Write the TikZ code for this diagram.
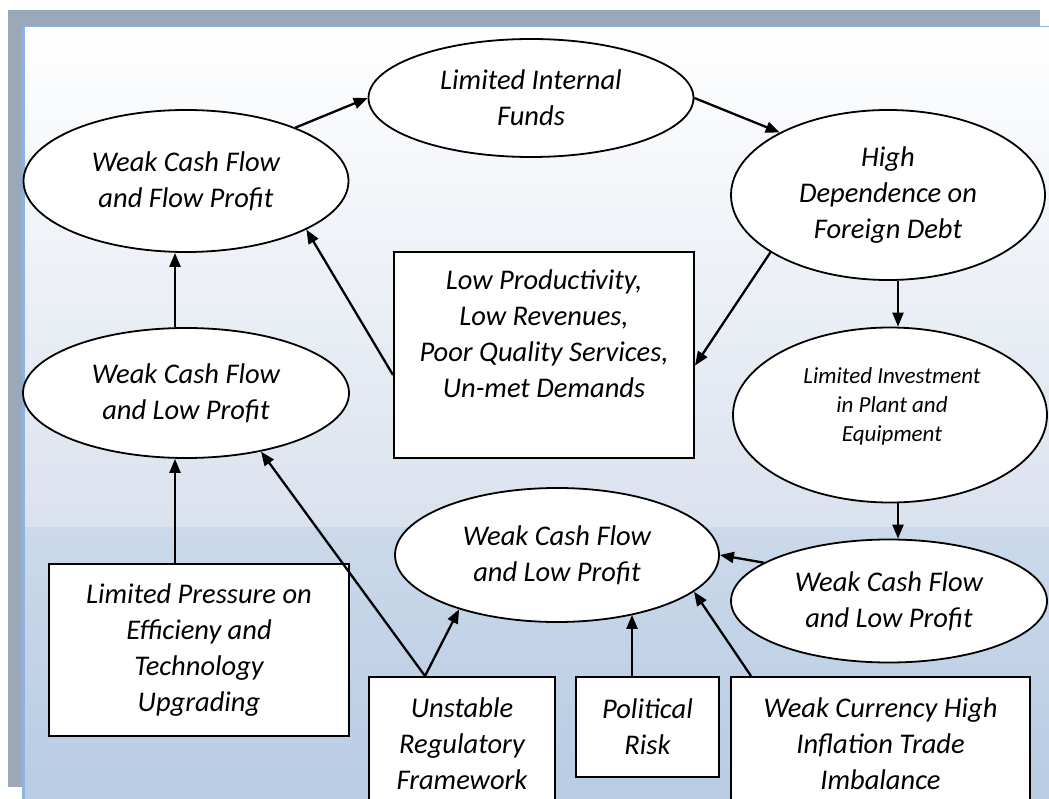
\documentclass[tikz,border=0pt]{standalone}
\usepackage{fontspec}
\setmainfont{Carlito}
\usetikzlibrary{shapes.geometric,arrows.meta,calc}
\definecolor{framegray}{RGB}{155,168,186}
\definecolor{edgeblue}{RGB}{143,178,224}
\definecolor{panelmid}{RGB}{218,226,238}
\definecolor{panellow}{RGB}{203,217,234}
\definecolor{panelbot}{RGB}{184,204,228}
\begin{document}
\begin{tikzpicture}[x=1pt,y=-1pt,
  lbl/.style={font=\fontsize{28.5}{36}\selectfont\itshape, align=center, text=black},
  ell/.style={ellipse, draw=black, line width=1.8pt, fill=white, inner sep=0pt, lbl},
  boxst/.style={rectangle, draw=black, line width=2pt, fill=white, inner sep=0pt, lbl},
  txt/.style={inner sep=0pt, lbl},
  smalltxt/.style={inner sep=0pt, align=center, text=black, font=\fontsize{23}{29}\selectfont\itshape},
  arr/.style={-{Triangle[length=14pt,width=11pt]}, line width=2.3pt, draw=black}]
\useasboundingbox (0,0) rectangle (1049,799);
\clip (0,0) rectangle (1049,799);
% background frame
\fill[white] (0,0) rectangle (1049,799);
\fill[framegray] (8,10) rectangle (1040,26);
\fill[framegray] (8,10) rectangle (23,787);
\fill[edgeblue] (23,26) rectangle (1049,28);
\fill[edgeblue] (22,26) rectangle (25,799);
\shade[top color=white, bottom color=panelmid] (25,28) rectangle (1049,527);
\shade[top color=panellow, bottom color=panelbot] (25,527) rectangle (1049,799);

% ellipses
\node[ell, minimum width=325pt, minimum height=142pt] (fp) at (186,181) {Weak Cash Flow\\and Flow Profit};
\node[ell, minimum width=325pt, minimum height=118pt] (lif) at (531,98) {Limited Internal\\Funds};
\node[ell, minimum width=314pt, minimum height=170pt] (hd) at (888,195) {High\\Dependence on\\Foreign Debt};
\node[ell, minimum width=314pt, minimum height=175pt] (li) at (890,415) {};
\node[smalltxt] (lit) at (892,406) {Limited Investment\\in Plant and\\Equipment};
\node[ell, minimum width=326pt, minimum height=130pt] (lm) at (186,393) {Weak Cash Flow\\and Low Profit};
\node[ell, minimum width=324pt, minimum height=134pt] (bc) at (557,555) {Weak Cash Flow\\and Low Profit};
\node[ell, minimum width=316pt, minimum height=123pt] (re) at (889,601) {Weak Cash Flow\\and Low Profit};

% boxes
\node[boxst, minimum width=300pt, minimum height=206pt] (lp) at (544,355) {};
\node[txt] (lptx) at (544,334) {Low Productivity,\\Low Revenues,\\Poor Quality Services,\\Un-met Demands};
\node[boxst, minimum width=300pt, minimum height=172pt] (lpr) at (199,650) {Limited Pressure on\\Efficieny and\\Technology\\Upgrading};
\node[boxst, minimum width=186pt, minimum height=140pt] (ur) at (462,747) {};
\node[txt] (urtx) at (462,744) {Unstable\\Regulatory\\Framework};
\node[boxst, minimum width=143pt, minimum height=100pt] (pr) at (647.5,727) {Political\\Risk};
\node[boxst, minimum width=299pt, minimum height=140pt] (wc) at (880.5,747) {};
\node[txt] (wctx) at (880.5,744) {Weak Currency High\\Inflation Trade\\Imbalance};

% connector end points
\coordinate (lprt) at ([xshift=-24pt]lpr.north);
\coordinate (urt) at ([xshift=-37pt]ur.north);
\coordinate (prt) at ([xshift=-15.5pt]pr.north);
\coordinate (wct) at ([xshift=-129.5pt]wc.north);
\coordinate (hds) at ([xshift=10pt]hd.south);
\coordinate (lis) at ([xshift=8pt]li.south);
\coordinate (lmn) at ([xshift=-11pt]lm.north);

% arrows
\draw[arr] (fp.26.8) -- (lif.west);
\draw[arr] (lif.east) -- (hd.150);
\draw[arr] (hd.206) -- (lp.-4.6);
\draw[arr] (hds) -- (hds |- li.north);
\draw[arr] (lis) -- (lis |- re.north);
\draw[arr] (re.163) -- (bc.east);
\draw[arr] ([yshift=-20pt]lp.west) -- (fp.-22.4);
\draw[arr] (lmn) -- (lmn |- fp.south);
\draw[arr] (lprt) -- (lprt |- lm.south);
\draw[arr] (urt) -- (lm.-38);
\draw[arr] (urt) -- (bc.209.3);
\draw[arr] (prt) -- (prt |- bc.-38);
\draw[arr] (wct) -- (bc.-15.3);
\end{tikzpicture}
\end{document}
